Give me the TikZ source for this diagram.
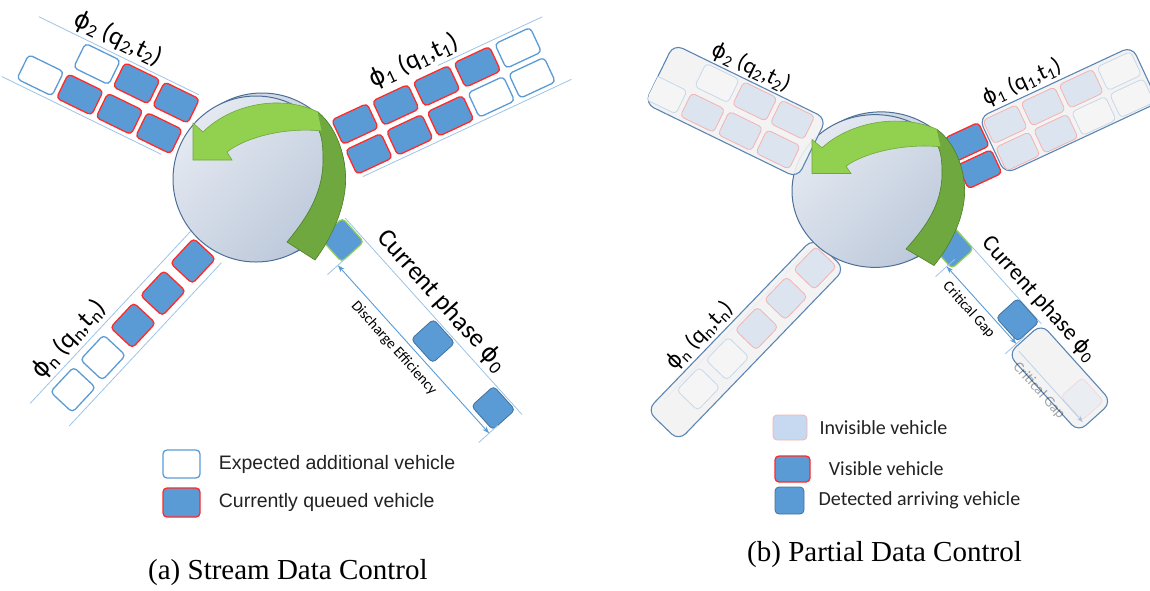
\documentclass[tikz,border=0pt]{standalone}
\usepackage{fontspec}
\setmainfont{Liberation Serif}
\newfontfamily\calib{Carlito}
\newfontfamily\arial{Liberation Sans}
\newfontfamily\dejavu{DejaVu Sans}
\usetikzlibrary{positioning,arrows.meta}

\definecolor{carBlue}{HTML}{5B9BD5}
\definecolor{carEdge}{HTML}{41719C}
\definecolor{carRed}{HTML}{FF2A2A}
\definecolor{greenEdge}{HTML}{92D050}
\definecolor{laneBlue}{HTML}{9DC3E6}
\definecolor{dimBlue}{HTML}{5B9BD5}
\definecolor{invisFill}{HTML}{DCE4F0}
\definecolor{invisEdge}{HTML}{F3B3B3}
\definecolor{legInvis}{HTML}{C6D9F0}
\definecolor{ghostFill}{HTML}{F5F5F5}
\definecolor{ghostEdge}{HTML}{C8D8EA}
\definecolor{boxFill}{HTML}{F2F2F2}
\definecolor{boxEdge}{HTML}{5B86B4}
\definecolor{hubLight}{HTML}{E4E9F1}
\definecolor{hubDark}{HTML}{BCC8DA}
\definecolor{hubEdge}{HTML}{4D6F96}
\definecolor{arrLight}{HTML}{92D050}
\definecolor{arrLightEdge}{HTML}{6FA83A}
\definecolor{arrDark}{HTML}{6FA83E}
\definecolor{arrDarkEdge}{HTML}{4E7F2A}
\definecolor{legText}{HTML}{222222}

% phase symbol
\newcommand{\ph}{{\dejavu\addfontfeature{Scale=0.92}ϕ}}
% one vehicle: style, position along lane, offset across lane
\newcommand{\veh}[3]{\draw[#1] (#2,#3) ++(-\vl/2,-\vw/2) rectangle ++(\vl,\vw);}

% intersection disc and turning arrow, drawn round (0,0)
\newcommand{\hubdisc}{%
  \draw[hubedge, fill=hubDark!70] (6,-3) circle[radius=83];
  \draw[hubedge, top color=hubLight, bottom color=hubDark, shading angle=45] (0,0) circle[radius=83];}
\newcommand{\hubarrow}{%
  \filldraw[fill=arrDark, draw=arrDarkEdge, line width=0.6pt] (62,-67) .. controls (84,-49) and (92,-14) .. (89,11)
    .. controls (86,36) and (74,61) .. (59,81) -- (31,63) .. controls (49,41) and (67,16) .. (67,-19)
    .. controls (67,-34) and (66,-44) .. (61,-52) -- cycle;
  \filldraw[fill=arrLight, draw=arrLightEdge, line width=0.6pt] (62,-67) .. controls (25,-85) and (-25,-75) .. (-53,-47)
    -- (-63,-56) -- (-63,-19) -- (-24,-19) -- (-29,-27) .. controls (-10,-42) and (30,-52) .. (66,-48) -- cycle;}

\begin{document}
\begin{tikzpicture}[x=1pt, y=-1pt, >={Stealth[length=7pt,width=5pt]},
  queued/.style={fill=carBlue, draw=carRed, line width=1.3pt, rounded corners=4pt},
  expected/.style={fill=white, draw=carBlue, line width=1.3pt, rounded corners=4pt},
  arriving/.style={fill=carBlue, draw=carEdge, line width=0.8pt, rounded corners=4pt},
  leading/.style={fill=carBlue, draw=greenEdge, line width=1.2pt, rounded corners=4pt},
  hidden/.style={fill=invisFill, draw=invisEdge, line width=0.8pt, rounded corners=4pt},
  ghost/.style={fill=ghostFill, draw=ghostEdge, line width=0.8pt, rounded corners=4pt},
  lanebox/.style={fill=boxFill, fill opacity=0.9, draw=boxEdge, line width=1.1pt, rounded corners=10pt},
  laneline/.style={draw=laneBlue, line width=0.8pt},
  dimline/.style={<->, draw=dimBlue, line width=0.9pt},
  hubedge/.style={draw=hubEdge, line width=1pt},
  lbla/.style={font=\calib\fontsize{26}{28}\selectfont, inner sep=1pt},
  lblb/.style={font=\calib\fontsize{23}{25}\selectfont, inner sep=1pt},
  small/.style={font=\calib\fontsize{15}{17}\selectfont, inner sep=1pt},
  legtxa/.style={font=\arial\fontsize{19.5}{22}\selectfont, text=legText, inner sep=0pt},
  legtxb/.style={font=\calib\fontsize{20}{22}\selectfont, text=legText, inner sep=0pt},
  caption/.style={font=\fontsize{29}{32}\selectfont, inner sep=0pt}]
\useasboundingbox (0,0) rectangle (1150,590);

%%% (a) stream data control
% phase 2
\begin{scope}[shift={(97,64)}, rotate=-26]
  \def\vl{39}\def\vw{27}
  \draw[laneline] (-73,-17) -- (105,-17);
  \draw[laneline] (-80,53) -- (97,53);
  \veh{expected}{0}{0}
  \foreach \u in {44,88} {\veh{queued}{\u}{0}}
  \veh{expected}{-46}{35}
  \foreach \u in {-2,42,86} {\veh{queued}{\u}{35}}
  \node[lbla, anchor=south, rotate=-26] (a2) at (8,-19) {\ph\textsubscript{2} (q\textsubscript{2},t\textsubscript{2})};
\end{scope}
% phase 1
\begin{scope}[shift={(355,124)}, rotate=25]
  \def\vl{39}\def\vw{27}
  \draw[laneline] (100,-18) -- (215,-18);
  \draw[laneline] (-15,51) -- (215,51);
  \foreach \u in {0,45,90,135} {\veh{queued}{\u}{0}}
  \veh{expected}{180}{0}
  \foreach \u in {0,45,90} {\veh{queued}{\u}{33}}
  \foreach \u in {135,180} {\veh{expected}{\u}{33}}
  \node[lbla, anchor=south, rotate=25] (a1) at (80,-19) {\ph\textsubscript{1} (q\textsubscript{1},t\textsubscript{1})};
\end{scope}
% phase n
\begin{scope}[shift={(193,261)}, rotate=47]
  \def\vl{34}\def\vw{30}
  \draw[laneline] (-215,-22) -- (20,-22);
  \draw[laneline] (-205,22) -- (18,22);
  \foreach \u in {0,-44,-88} {\veh{queued}{\u}{0}}
  \foreach \u in {-132,-176} {\veh{expected}{\u}{0}}
  \node[lbla, anchor=south, rotate=47] (an) at (-142,-24) {\ph\textsubscript{n} (q\textsubscript{n},t\textsubscript{n})};
\end{scope}
% current phase
\begin{scope}[shift={(342,240)}, rotate=-48]
  \def\vl{32}\def\vw{30}
  \draw[laneline] (-14,-17) -- (250,-17);
  \veh{leading}{0}{0}
  \veh{arriving}{136}{0}
  \veh{arriving}{226}{0}
  \draw[laneline] (16,8) -- (16,34);
  \draw[laneline] (242,8) -- (242,34);
  \draw[dimline] (16,20) -- (242,20);
  \node[lbla, anchor=south, rotate=-48] (a0) at (112,-20) {Current phase \ph\textsubscript{0}};
  \node[small, anchor=north, rotate=-48] (de) at (115,26) {Discharge Efficiency};
\end{scope}
% intersection
\begin{scope}[shift={(256,179)}]
  \hubdisc
  \hubarrow
\end{scope}
% legend
\node[expected, minimum width=37pt, minimum height=28pt, inner sep=0pt] (ka1) at (181.5,464) {};
\node[legtxa, right=18pt of ka1] (ta1) {Expected additional vehicle};
\node[queued, minimum width=37pt, minimum height=29pt, inner sep=0pt] (ka2) at (181.5,502.5) {};
\node[legtxa, right=18pt of ka2] (ta2) {Currently queued vehicle};
\node[caption, anchor=west] (capa) at (148,573) {(a) Stream Data Control};

%%% (b) partial data control
% phase n
\begin{scope}[shift={(815,268)}, rotate=46]
  \def\vl{32}\def\vw{29}
  \draw[laneline] (-200,-17) -- (10,-17);
  \draw[lanebox] (-219,-22) rectangle (20,22);
  \foreach \u in {0,-42,-84} {\veh{hidden}{\u}{0}}
  \foreach \u in {-126,-168} {\veh{ghost}{\u}{0}}
  \node[lblb, anchor=south, rotate=46] (bn) at (-129,-24) {\ph\textsubscript{n} (q\textsubscript{n},t\textsubscript{n})};
\end{scope}
% phase 1
\begin{scope}[shift={(967,142)}, rotate=25]
  \def\vl{37}\def\vw{26}
  \draw[lanebox] (21,-17) rectangle (190,45);
  \veh{queued}{0}{0}
  \veh{queued}{0}{30}
  \foreach \u in {42,84,126} {\veh{hidden}{\u}{0}}
  \veh{ghost}{168}{0}
  \foreach \u in {42,84} {\veh{hidden}{\u}{30}}
  \foreach \u in {126,168} {\veh{ghost}{\u}{30}}
  \node[lblb, anchor=south, rotate=25] (b1) at (75,-19) {\ph\textsubscript{1} (q\textsubscript{1},t\textsubscript{1})};
\end{scope}
% current phase
\begin{scope}[shift={(952,247)}, rotate=-48]
  \def\vl{32}\def\vw{29}
  \draw[laneline] (-12,-15) -- (117,-15);
  \draw[lanebox] (117,-15) rectangle (222,30);
  \begin{scope}[opacity=0.35]
    \veh{hidden}{200}{5}
    \draw[dimline, ->] (122,20) -- (218,20);
    \node[small, anchor=north, rotate=-48] (bgh) at (165,24) {Critical Gap};
  \end{scope}
  \veh{leading}{0}{0}
  \veh{arriving}{98}{0}
  \draw[laneline] (11,6) -- (11,32);
  \draw[laneline] (115,6) -- (115,32);
  \draw[dimline] (11,17) -- (115,17);
  \node[lblb, anchor=south, rotate=-48] (b0) at (97,-18) {Current phase \ph\textsubscript{0}};
  \node[small, anchor=north, rotate=-48] (cg) at (58,22) {Critical Gap};
\end{scope}
% intersection
\begin{scope}[shift={(875,191)}, yscale=0.92]
  \hubdisc
\end{scope}
% phase 2
\begin{scope}[shift={(717,83)}, rotate=-26]
  \def\vl{37}\def\vw{26}
  \draw[lanebox] (-56,-16) rectangle (114,50);
  \begin{scope}
    \clip[rounded corners=10pt] (-56,-16) rectangle (114,50);
    \veh{ghost}{0}{0}
    \foreach \u in {42,84} {\veh{hidden}{\u}{0}}
    \veh{ghost}{-42}{33}
    \foreach \u in {0,42,84} {\veh{hidden}{\u}{33}}
  \end{scope}
  \node[lblb, anchor=south, rotate=-26] (b2) at (24,-17) {\ph\textsubscript{2} (q\textsubscript{2},t\textsubscript{2})};
\end{scope}
\begin{scope}[shift={(875,191)}, yscale=0.92]
  \hubarrow
\end{scope}
% legend
\node[hidden, fill=legInvis, minimum width=34pt, minimum height=25pt, inner sep=0pt] (kb1) at (790,427.5) {};
\node[legtxb, right=12pt of kb1] (tb1) {Invisible vehicle};
\node[queued, minimum width=35pt, minimum height=26pt, inner sep=0pt] (kb2) at (792.5,469) {};
\node[legtxb, right=18pt of kb2] (tb2) {Visible vehicle};
\node[arriving, minimum width=29pt, minimum height=27pt, inner sep=0pt] (kb3) at (789.5,500.5) {};
\node[legtxb, right=14pt of kb3] (tb3) {Detected arriving vehicle};
\node[caption, anchor=west] (capb) at (747,555) {(b) Partial Data Control};
\end{tikzpicture}
\end{document}
